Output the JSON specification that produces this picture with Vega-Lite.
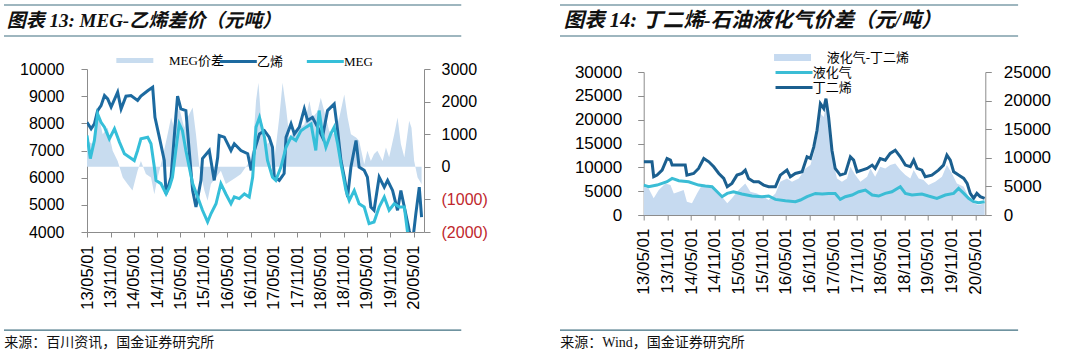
{
  "$schema": "https://vega.github.io/schema/vega-lite/v6.json",
  "padding": {"left": 3, "top": 4, "right": 0, "bottom": 0},
  "datasets": {
    "left_lines": [
      {"d":"2013-05-01","s":"乙烯","v":8040},{"d":"2013-06-02","s":"乙烯","v":7800},{"d":"2013-06-28","s":"乙烯","v":7980},{"d":"2013-07-23","s":"乙烯","v":8470},{"d":"2013-08-19","s":"乙烯","v":8650},{"d":"2013-09-15","s":"乙烯","v":9020},{"d":"2013-10-10","s":"乙烯","v":8900},{"d":"2013-11-06","s":"乙烯","v":8600},{"d":"2013-12-27","s":"乙烯","v":9150},{"d":"2014-01-23","s":"乙烯","v":8530},{"d":"2014-03-02","s":"乙烯","v":9000},{"d":"2014-04-10","s":"乙烯","v":9020},{"d":"2014-06-01","s":"乙烯","v":8840},{"d":"2014-06-27","s":"乙烯","v":9000},{"d":"2014-08-19","s":"乙烯","v":9200},{"d":"2014-09-27","s":"乙烯","v":9330},{"d":"2014-10-15","s":"乙烯","v":8220},{"d":"2014-11-18","s":"乙烯","v":7490},{"d":"2014-12-27","s":"乙烯","v":6630},{"d":"2015-01-10","s":"乙烯","v":5400},{"d":"2015-02-18","s":"乙烯","v":6020},{"d":"2015-03-27","s":"乙烯","v":8220},{"d":"2015-04-10","s":"乙烯","v":9000},{"d":"2015-05-06","s":"乙烯","v":8530},{"d":"2015-06-14","s":"乙烯","v":8470},{"d":"2015-07-10","s":"乙烯","v":7000},{"d":"2015-08-06","s":"乙烯","v":5530},{"d":"2015-09-01","s":"乙烯","v":4920},{"d":"2015-10-10","s":"乙烯","v":5900},{"d":"2015-10-22","s":"乙烯","v":6700},{"d":"2015-12-14","s":"乙烯","v":7000},{"d":"2016-01-22","s":"乙烯","v":5900},{"d":"2016-02-18","s":"乙烯","v":6750},{"d":"2016-03-01","s":"乙烯","v":7550},{"d":"2016-04-10","s":"乙烯","v":7490},{"d":"2016-06-01","s":"乙烯","v":7000},{"d":"2016-06-27","s":"乙烯","v":7250},{"d":"2016-08-18","s":"乙烯","v":7000},{"d":"2016-10-10","s":"乙烯","v":6880},{"d":"2016-11-06","s":"乙烯","v":6270},{"d":"2016-12-01","s":"乙烯","v":7000},{"d":"2017-01-10","s":"乙烯","v":7610},{"d":"2017-02-18","s":"乙烯","v":7730},{"d":"2017-03-27","s":"乙烯","v":7490},{"d":"2017-04-22","s":"乙烯","v":7120},{"d":"2017-05-06","s":"乙烯","v":6020},{"d":"2017-06-14","s":"乙烯","v":5900},{"d":"2017-07-22","s":"乙烯","v":6150},{"d":"2017-08-06","s":"乙烯","v":7490},{"d":"2017-09-14","s":"乙烯","v":7980},{"d":"2017-10-10","s":"乙烯","v":7610},{"d":"2017-11-18","s":"乙烯","v":7860},{"d":"2017-12-27","s":"乙烯","v":8530},{"d":"2018-01-22","s":"乙烯","v":8100},{"d":"2018-03-01","s":"乙烯","v":8220},{"d":"2018-04-10","s":"乙烯","v":7860},{"d":"2018-05-18","s":"乙烯","v":7490},{"d":"2018-06-27","s":"乙烯","v":8470},{"d":"2018-08-18","s":"乙烯","v":8710},{"d":"2018-09-14","s":"乙烯","v":7730},{"d":"2018-10-10","s":"乙烯","v":6630},{"d":"2018-11-05","s":"乙烯","v":6020},{"d":"2018-12-01","s":"乙烯","v":5290},{"d":"2018-12-27","s":"乙烯","v":6390},{"d":"2019-02-05","s":"乙烯","v":7370},{"d":"2019-03-01","s":"乙烯","v":6390},{"d":"2019-04-10","s":"乙烯","v":6270},{"d":"2019-05-05","s":"乙烯","v":6020},{"d":"2019-06-01","s":"乙烯","v":4920},{"d":"2019-06-26","s":"乙烯","v":4800},{"d":"2019-08-05","s":"乙烯","v":6020},{"d":"2019-09-14","s":"乙烯","v":5650},{"d":"2019-10-10","s":"乙烯","v":5900},{"d":"2019-11-18","s":"乙烯","v":5530},{"d":"2019-12-27","s":"乙烯","v":4800},{"d":"2020-01-22","s":"乙烯","v":5530},{"d":"2020-02-18","s":"乙烯","v":4920},{"d":"2020-03-27","s":"乙烯","v":4060},{"d":"2020-04-22","s":"乙烯","v":3600},{"d":"2020-05-18","s":"乙烯","v":4670},{"d":"2020-06-14","s":"乙烯","v":5650},{"d":"2020-07-02","s":"乙烯","v":4550},
      {"d":"2013-05-01","s":"MEG","v":7550},{"d":"2013-05-27","s":"MEG","v":6700},{"d":"2013-06-28","s":"MEG","v":7370},{"d":"2013-07-23","s":"MEG","v":8350},{"d":"2013-08-19","s":"MEG","v":8040},{"d":"2013-09-15","s":"MEG","v":7860},{"d":"2013-10-23","s":"MEG","v":7430},{"d":"2013-12-02","s":"MEG","v":7800},{"d":"2014-01-10","s":"MEG","v":7310},{"d":"2014-02-18","s":"MEG","v":6880},{"d":"2014-03-27","s":"MEG","v":6760},{"d":"2014-05-06","s":"MEG","v":6630},{"d":"2014-06-01","s":"MEG","v":7000},{"d":"2014-06-27","s":"MEG","v":7430},{"d":"2014-08-19","s":"MEG","v":7490},{"d":"2014-09-14","s":"MEG","v":7250},{"d":"2014-10-10","s":"MEG","v":6390},{"d":"2014-10-23","s":"MEG","v":5900},{"d":"2014-12-01","s":"MEG","v":5780},{"d":"2015-01-10","s":"MEG","v":5400},{"d":"2015-02-05","s":"MEG","v":5650},{"d":"2015-03-01","s":"MEG","v":6020},{"d":"2015-03-27","s":"MEG","v":7000},{"d":"2015-04-23","s":"MEG","v":7980},{"d":"2015-05-18","s":"MEG","v":7730},{"d":"2015-06-14","s":"MEG","v":7000},{"d":"2015-07-10","s":"MEG","v":6390},{"d":"2015-08-06","s":"MEG","v":5780},{"d":"2015-09-14","s":"MEG","v":5290},{"d":"2015-10-22","s":"MEG","v":4800},{"d":"2015-12-01","s":"MEG","v":4370},{"d":"2015-12-27","s":"MEG","v":4670},{"d":"2016-02-05","s":"MEG","v":5040},{"d":"2016-03-14","s":"MEG","v":5780},{"d":"2016-04-22","s":"MEG","v":5400},{"d":"2016-06-01","s":"MEG","v":5040},{"d":"2016-06-27","s":"MEG","v":5290},{"d":"2016-08-05","s":"MEG","v":5230},{"d":"2016-09-14","s":"MEG","v":5400},{"d":"2016-10-22","s":"MEG","v":5290},{"d":"2016-11-18","s":"MEG","v":6020},{"d":"2016-12-14","s":"MEG","v":7860},{"d":"2017-01-10","s":"MEG","v":8220},{"d":"2017-02-18","s":"MEG","v":7490},{"d":"2017-03-14","s":"MEG","v":6630},{"d":"2017-04-22","s":"MEG","v":6020},{"d":"2017-05-18","s":"MEG","v":5900},{"d":"2017-06-27","s":"MEG","v":6390},{"d":"2017-08-06","s":"MEG","v":7120},{"d":"2017-09-14","s":"MEG","v":7490},{"d":"2017-10-22","s":"MEG","v":7370},{"d":"2017-12-01","s":"MEG","v":7730},{"d":"2018-01-10","s":"MEG","v":7860},{"d":"2018-02-18","s":"MEG","v":7980},{"d":"2018-03-27","s":"MEG","v":7000},{"d":"2018-04-22","s":"MEG","v":8470},{"d":"2018-05-18","s":"MEG","v":7610},{"d":"2018-06-14","s":"MEG","v":7120},{"d":"2018-07-22","s":"MEG","v":7610},{"d":"2018-08-18","s":"MEG","v":7860},{"d":"2018-09-14","s":"MEG","v":7250},{"d":"2018-10-10","s":"MEG","v":6510},{"d":"2018-11-18","s":"MEG","v":5530},{"d":"2018-12-14","s":"MEG","v":5160},{"d":"2019-01-22","s":"MEG","v":5530},{"d":"2019-03-01","s":"MEG","v":5040},{"d":"2019-04-10","s":"MEG","v":4920},{"d":"2019-05-18","s":"MEG","v":4310},{"d":"2019-06-26","s":"MEG","v":4370},{"d":"2019-08-05","s":"MEG","v":4920},{"d":"2019-09-14","s":"MEG","v":5290},{"d":"2019-10-22","s":"MEG","v":4800},{"d":"2019-12-01","s":"MEG","v":5040},{"d":"2020-01-10","s":"MEG","v":4920},{"d":"2020-02-18","s":"MEG","v":4920},{"d":"2020-03-14","s":"MEG","v":4000},{"d":"2020-04-04","s":"MEG","v":3700},{"d":"2020-05-18","s":"MEG","v":3600},{"d":"2020-07-02","s":"MEG","v":3900}
    ],
    "left_spread": [
      {"d":"2013-05-01","v":800},{"d":"2013-06-14","v":700},{"d":"2013-07-23","v":1700},{"d":"2013-09-01","v":1000},{"d":"2013-10-10","v":1200},{"d":"2013-11-18","v":490},{"d":"2013-12-27","v":180},{"d":"2014-02-05","v":-330},{"d":"2014-03-14","v":-530},{"d":"2014-04-22","v":-730},{"d":"2014-06-01","v":-120},{"d":"2014-06-27","v":180},{"d":"2014-08-05","v":-220},{"d":"2014-09-14","v":-330},{"d":"2014-10-10","v":-840},{"d":"2014-11-05","v":-330},{"d":"2014-12-14","v":290},{"d":"2015-01-22","v":1000},{"d":"2015-02-18","v":1510},{"d":"2015-03-14","v":1200},{"d":"2015-04-22","v":1820},{"d":"2015-06-01","v":1200},{"d":"2015-06-27","v":1510},{"d":"2015-08-06","v":1820},{"d":"2015-09-01","v":1000},{"d":"2015-09-27","v":0},{"d":"2015-11-06","v":-730},{"d":"2015-12-01","v":-1040},{"d":"2015-12-27","v":-530},{"d":"2016-02-05","v":-330},{"d":"2016-03-14","v":-120},{"d":"2016-04-22","v":-530},{"d":"2016-06-01","v":-430},{"d":"2016-07-10","v":-330},{"d":"2016-08-18","v":-220},{"d":"2016-10-10","v":80},{"d":"2016-11-18","v":490},{"d":"2016-12-14","v":2020},{"d":"2017-01-02","v":2580},{"d":"2017-01-22","v":1510},{"d":"2017-02-18","v":1000},{"d":"2017-03-14","v":700},{"d":"2017-04-10","v":800},{"d":"2017-05-06","v":200},{"d":"2017-06-14","v":1510},{"d":"2017-07-10","v":2580},{"d":"2017-08-06","v":1820},{"d":"2017-09-01","v":900},{"d":"2017-10-10","v":1100},{"d":"2017-11-18","v":1200},{"d":"2017-12-27","v":1300},{"d":"2018-02-05","v":2020},{"d":"2018-03-01","v":1510},{"d":"2018-04-10","v":1700},{"d":"2018-05-05","v":2120},{"d":"2018-06-14","v":1510},{"d":"2018-07-10","v":1100},{"d":"2018-08-18","v":1000},{"d":"2018-09-27","v":1510},{"d":"2018-11-05","v":2220},{"d":"2018-12-01","v":1510},{"d":"2018-12-27","v":1000},{"d":"2019-02-05","v":900},{"d":"2019-03-01","v":800},{"d":"2019-04-10","v":80},{"d":"2019-05-05","v":490},{"d":"2019-06-01","v":180},{"d":"2019-06-26","v":390},{"d":"2019-07-22","v":490},{"d":"2019-09-01","v":180},{"d":"2019-09-27","v":590},{"d":"2019-10-22","v":290},{"d":"2019-12-01","v":1000},{"d":"2019-12-27","v":1510},{"d":"2020-01-22","v":700},{"d":"2020-02-18","v":290},{"d":"2020-03-27","v":1410},{"d":"2020-04-14","v":1200},{"d":"2020-05-05","v":180},{"d":"2020-06-01","v":-330},{"d":"2020-07-02","v":-530}
    ],
    "right_lines": [
      {"d":"2013-05-01","s":"丁二烯","v":11160},{"d":"2013-07-04","s":"丁二烯","v":11160},{"d":"2013-07-17","s":"丁二烯","v":8020},{"d":"2013-08-12","s":"丁二烯","v":8370},{"d":"2013-09-20","s":"丁二烯","v":9420},{"d":"2013-10-28","s":"丁二烯","v":11860},{"d":"2013-11-23","s":"丁二烯","v":11510},{"d":"2013-12-06","s":"丁二烯","v":10470},{"d":"2014-03-17","s":"丁二烯","v":10470},{"d":"2014-03-30","s":"丁二烯","v":8370},{"d":"2014-05-21","s":"丁二烯","v":8720},{"d":"2014-06-28","s":"丁二烯","v":9770},{"d":"2014-08-07","s":"丁二烯","v":11860},{"d":"2014-09-15","s":"丁二烯","v":11160},{"d":"2014-10-23","s":"丁二烯","v":10120},{"d":"2014-12-01","s":"丁二烯","v":8720},{"d":"2015-01-08","s":"丁二烯","v":7670},{"d":"2015-02-04","s":"丁二烯","v":5930},{"d":"2015-03-12","s":"丁二烯","v":6630},{"d":"2015-04-20","s":"丁二烯","v":8370},{"d":"2015-05-28","s":"丁二烯","v":8720},{"d":"2015-06-23","s":"丁二烯","v":9420},{"d":"2015-07-18","s":"丁二烯","v":7670},{"d":"2015-08-27","s":"丁二烯","v":6980},{"d":"2015-10-04","s":"丁二烯","v":6980},{"d":"2015-11-12","s":"丁二烯","v":6280},{"d":"2015-12-20","s":"丁二烯","v":5930},{"d":"2016-02-10","s":"丁二烯","v":5930},{"d":"2016-03-19","s":"丁二烯","v":8370},{"d":"2016-05-09","s":"丁二烯","v":9420},{"d":"2016-06-04","s":"丁二烯","v":8020},{"d":"2016-07-13","s":"丁二烯","v":8720},{"d":"2016-09-03","s":"丁二烯","v":9070},{"d":"2016-10-11","s":"丁二烯","v":12210},{"d":"2016-11-06","s":"丁二烯","v":11860},{"d":"2016-12-02","s":"丁二烯","v":14300},{"d":"2016-12-27","s":"丁二烯","v":17790},{"d":"2017-01-22","s":"丁二烯","v":23370},{"d":"2017-02-17","s":"丁二烯","v":22330},{"d":"2017-03-06","s":"丁二烯","v":24420},{"d":"2017-03-26","s":"丁二烯","v":20580},{"d":"2017-04-21","s":"丁二烯","v":13600},{"d":"2017-05-16","s":"丁二烯","v":9770},{"d":"2017-06-24","s":"丁二烯","v":8370},{"d":"2017-08-02","s":"丁二烯","v":8720},{"d":"2017-09-10","s":"丁二烯","v":12210},{"d":"2017-10-05","s":"丁二烯","v":11510},{"d":"2017-11-01","s":"丁二烯","v":9070},{"d":"2017-12-09","s":"丁二烯","v":9420},{"d":"2018-01-17","s":"丁二烯","v":9770},{"d":"2018-02-25","s":"丁二烯","v":10470},{"d":"2018-03-20","s":"丁二烯","v":9770},{"d":"2018-04-28","s":"丁二烯","v":11860},{"d":"2018-06-06","s":"丁二烯","v":11510},{"d":"2018-07-14","s":"丁二烯","v":12910},{"d":"2018-08-22","s":"丁二烯","v":13600},{"d":"2018-09-30","s":"丁二烯","v":12210},{"d":"2018-11-08","s":"丁二烯","v":10470},{"d":"2018-12-16","s":"丁二烯","v":10120},{"d":"2019-01-11","s":"丁二烯","v":11510},{"d":"2019-02-06","s":"丁二烯","v":9770},{"d":"2019-03-15","s":"丁二烯","v":9420},{"d":"2019-04-10","s":"丁二烯","v":8020},{"d":"2019-05-31","s":"丁二烯","v":8370},{"d":"2019-07-21","s":"丁二烯","v":9420},{"d":"2019-08-29","s":"丁二烯","v":10470},{"d":"2019-09-24","s":"丁二烯","v":12560},{"d":"2019-10-20","s":"丁二烯","v":11510},{"d":"2019-11-15","s":"丁二烯","v":9070},{"d":"2019-12-23","s":"丁二烯","v":8370},{"d":"2020-02-01","s":"丁二烯","v":7670},{"d":"2020-02-27","s":"丁二烯","v":6630},{"d":"2020-03-22","s":"丁二烯","v":4530},{"d":"2020-04-17","s":"丁二烯","v":3490},{"d":"2020-05-12","s":"丁二烯","v":4530},{"d":"2020-06-07","s":"丁二烯","v":3840},{"d":"2020-07-11","s":"丁二烯","v":3490},
      {"d":"2013-05-01","s":"液化气","v":6280},{"d":"2013-06-08","s":"液化气","v":5930},{"d":"2013-08-12","s":"液化气","v":6280},{"d":"2013-10-28","s":"液化气","v":6980},{"d":"2013-12-06","s":"液化气","v":7670},{"d":"2014-01-27","s":"液化气","v":7190},{"d":"2014-04-12","s":"液化气","v":6980},{"d":"2014-06-28","s":"液化气","v":6280},{"d":"2014-08-19","s":"液化气","v":6070},{"d":"2014-10-10","s":"液化气","v":5930},{"d":"2014-11-18","s":"液化气","v":4880},{"d":"2014-12-26","s":"液化气","v":3840},{"d":"2015-02-04","s":"液化气","v":4530},{"d":"2015-03-24","s":"液化气","v":4880},{"d":"2015-05-28","s":"液化气","v":4400},{"d":"2015-08-14","s":"液化气","v":3980},{"d":"2015-10-30","s":"液化气","v":3840},{"d":"2015-12-20","s":"液化气","v":3980},{"d":"2016-02-10","s":"液化气","v":3280},{"d":"2016-04-27","s":"液化气","v":3000},{"d":"2016-07-13","s":"液化气","v":2790},{"d":"2016-08-21","s":"液化气","v":3140},{"d":"2016-10-11","s":"液化气","v":3840},{"d":"2016-12-15","s":"液化气","v":4530},{"d":"2017-02-05","s":"液化气","v":4400},{"d":"2017-03-26","s":"液化气","v":4530},{"d":"2017-05-16","s":"液化气","v":4530},{"d":"2017-06-24","s":"液化气","v":3280},{"d":"2017-08-02","s":"液化气","v":3840},{"d":"2017-09-23","s":"液化气","v":4190},{"d":"2017-11-14","s":"液化气","v":4880},{"d":"2018-01-04","s":"液化气","v":5230},{"d":"2018-02-25","s":"液化气","v":4190},{"d":"2018-04-16","s":"液化气","v":3980},{"d":"2018-06-06","s":"液化气","v":4530},{"d":"2018-07-27","s":"液化气","v":4880},{"d":"2018-09-30","s":"液化气","v":5930},{"d":"2018-11-08","s":"液化气","v":4530},{"d":"2018-12-29","s":"液化气","v":4190},{"d":"2019-03-15","s":"液化气","v":4400},{"d":"2019-05-05","s":"液化气","v":3980},{"d":"2019-07-09","s":"液化气","v":3490},{"d":"2019-09-12","s":"液化气","v":4190},{"d":"2019-11-15","s":"液化气","v":4530},{"d":"2019-12-23","s":"液化气","v":5580},{"d":"2020-02-01","s":"液化气","v":4530},{"d":"2020-03-09","s":"液化气","v":3490},{"d":"2020-04-17","s":"液化气","v":2790},{"d":"2020-05-25","s":"液化气","v":2580},{"d":"2020-07-11","s":"液化气","v":2790}
    ],
    "right_spread": [
      {"d":"2013-05-01","v":4940},{"d":"2013-06-08","v":4650},{"d":"2013-07-17","v":2910},{"d":"2013-08-25","v":4360},{"d":"2013-10-16","v":5520},{"d":"2013-11-23","v":5230},{"d":"2013-12-19","v":3780},{"d":"2014-01-27","v":4070},{"d":"2014-03-05","v":4360},{"d":"2014-03-30","v":2330},{"d":"2014-05-08","v":2040},{"d":"2014-06-16","v":3780},{"d":"2014-07-24","v":5230},{"d":"2014-09-15","v":4940},{"d":"2014-11-05","v":4360},{"d":"2014-12-26","v":3200},{"d":"2015-02-04","v":2040},{"d":"2015-03-12","v":2910},{"d":"2015-05-02","v":4360},{"d":"2015-06-23","v":5520},{"d":"2015-08-01","v":4070},{"d":"2015-09-21","v":3780},{"d":"2015-11-12","v":3200},{"d":"2015-12-20","v":2620},{"d":"2016-02-10","v":3780},{"d":"2016-03-19","v":5810},{"d":"2016-05-09","v":6400},{"d":"2016-06-17","v":5810},{"d":"2016-08-08","v":6400},{"d":"2016-09-29","v":8140},{"d":"2016-11-06","v":8720},{"d":"2016-12-02","v":10760},{"d":"2016-12-27","v":13660},{"d":"2017-01-22","v":17730},{"d":"2017-02-17","v":17150},{"d":"2017-03-06","v":19190},{"d":"2017-04-01","v":15700},{"d":"2017-04-21","v":10170},{"d":"2017-05-30","v":6400},{"d":"2017-07-07","v":5810},{"d":"2017-08-15","v":6400},{"d":"2017-09-10","v":8430},{"d":"2017-10-18","v":6980},{"d":"2017-11-26","v":5810},{"d":"2018-01-17","v":6690},{"d":"2018-02-12","v":8140},{"d":"2018-03-20","v":6690},{"d":"2018-04-28","v":8430},{"d":"2018-06-06","v":8140},{"d":"2018-07-14","v":8720},{"d":"2018-08-22","v":9010},{"d":"2018-09-30","v":7850},{"d":"2018-11-08","v":6980},{"d":"2018-12-16","v":6400},{"d":"2019-01-11","v":7850},{"d":"2019-02-19","v":6400},{"d":"2019-03-28","v":6100},{"d":"2019-05-05","v":5230},{"d":"2019-06-26","v":5810},{"d":"2019-08-17","v":6690},{"d":"2019-09-24","v":8720},{"d":"2019-11-02","v":7270},{"d":"2019-12-10","v":5520},{"d":"2020-02-01","v":4940},{"d":"2020-03-09","v":3200},{"d":"2020-04-17","v":2040},{"d":"2020-05-25","v":1740},{"d":"2020-07-11","v":2040}
    ]
  },
  "hconcat": [
    {
      "vconcat": [
        {
          "width": 503, "height": 64,
          "data": {"values": [{}]},
          "layer": [
            {"mark": {"type": "rule", "color": "#3f6f80", "strokeWidth": 1.2},
             "encoding": {"x": {"datum": 0, "type": "quantitative", "scale": {"domain": [0, 503]}, "axis": null}, "x2": {"datum": 500},
                          "y": {"datum": 0, "type": "quantitative", "scale": {"domain": [0, 64], "reverse": true}, "axis": null}}},
            {"mark": {"type": "rule", "color": "#3f6f80", "strokeWidth": 1.2},
             "encoding": {"x": {"datum": 0, "type": "quantitative"}, "x2": {"datum": 500},
                          "y": {"datum": 31.5, "type": "quantitative"}}},
            {"mark": {"type": "text", "align": "left", "baseline": "middle", "fontSize": 19, "fontWeight": "bold", "fontStyle": "italic", "font": "Liberation Serif, Noto Sans CJK SC", "color": "#111"},
             "encoding": {"x": {"datum": 3, "type": "quantitative"},
                          "y": {"datum": 16, "type": "quantitative"},
                          "text": {"value": "图表 13: MEG-乙烯差价（元吨）"}}}
          ]
        },
        {
          "width": 337, "height": 163,
          "encoding": {
            "x": {"field": "d", "type": "temporal",
                  "scale": {"domain": [{"year": 2013, "month": 5, "date": 1}, {"year": 2020, "month": 7, "date": 21}]},
                  "axis": {"title": null, "format": "%y/%m/%d", "labelAngle": 270, "labelPadding": 8, "tickSize": 5, "labelOverlap": false, "labelFontSize": 16.5,
                           "values": [{"year":2013,"month":5,"date":1},{"year":2013,"month":11,"date":1},{"year":2014,"month":5,"date":1},{"year":2014,"month":11,"date":1},{"year":2015,"month":5,"date":1},{"year":2015,"month":11,"date":1},{"year":2016,"month":5,"date":1},{"year":2016,"month":11,"date":1},{"year":2017,"month":5,"date":1},{"year":2017,"month":11,"date":1},{"year":2018,"month":5,"date":1},{"year":2018,"month":11,"date":1},{"year":2019,"month":5,"date":1},{"year":2019,"month":11,"date":1},{"year":2020,"month":5,"date":1}]}}
          },
          "layer": [
            {
              "data": {"name": "left_spread"},
              "mark": {"type": "area", "clip": true},
              "encoding": {
                "y": {"field": "v", "type": "quantitative", "scale": {"domain": [-2000, 3000]},
                      "axis": {"title": null, "orient": "right", "values": [-2000, -1000, 0, 1000, 2000, 3000], "tickSize": 6, "labelPadding": 11, "labelFontSize": 16,
                               "labelExpr": "datum.value < 0 ? '(' + format(-datum.value, 'd') + ')' : format(datum.value, 'd')",
                               "labelColor": {"condition": {"test": "datum.value < 0", "value": "#c0272d"}, "value": "#000000"}}},
                "y2": {"datum": 0},
                "fill": {"datum": "MEG价差", "type": "nominal", "scale": {"domain": ["MEG价差"], "range": ["#c8dcef"]},
                         "legend": {"title": null, "orient": "none", "legendX": 29, "legendY": -15, "direction": "horizontal", "padding": 0,
                                    "symbolType": "M-3,-0.4H3V0.4H-3Z", "symbolSize": 152, "symbolOffset": 12.33, "labelOffset": 27.7, "symbolStrokeWidth": 0,
                                    "labelFont": "Liberation Serif, Noto Sans CJK SC", "labelFontSize": 13, "labelColor": "#000000"}}
              }
            },
            {
              "data": {"name": "left_lines"},
              "mark": {"type": "line", "strokeWidth": 3, "clip": true},
              "encoding": {
                "y": {"field": "v", "type": "quantitative", "scale": {"domain": [4000, 10000]},
                      "axis": {"title": null, "orient": "left", "values": [4000, 5000, 6000, 7000, 8000, 9000, 10000], "format": "d", "tickSize": 6, "labelPadding": 17, "labelFontSize": 16}},
                "stroke": {"field": "s", "type": "nominal", "scale": {"domain": ["乙烯", "MEG"], "range": ["#1c6aa0", "#35bfd9"]},
                           "legend": {"title": null, "orient": "none", "legendX": 131, "legendY": -15.5, "direction": "horizontal", "padding": 0, "columnPadding": 16,
                                      "symbolType": "M-3,0H3", "symbolSize": 152, "symbolOffset": 12.33, "labelOffset": 10.7, "symbolStrokeWidth": 3, "symbolFillColor": "transparent",
                                      "labelFont": "Liberation Serif, Noto Sans CJK SC", "labelFontSize": 13, "labelColor": "#000000"}}
              }
            }
          ],
          "resolve": {"scale": {"y": "independent"}, "axis": {"y": "independent"}}
        },
        {
          "width": 503, "height": 116,
          "data": {"values": [{}]},
          "layer": [
            {"mark": {"type": "rule", "color": "#3f6f80", "strokeWidth": 1.2},
             "encoding": {"x": {"datum": 0, "type": "quantitative", "scale": {"domain": [0, 503]}, "axis": null}, "x2": {"datum": 500},
                          "y": {"datum": 101.5, "type": "quantitative", "scale": {"domain": [0, 116], "reverse": true}, "axis": null}}},
            {"mark": {"type": "text", "align": "left", "baseline": "middle", "fontSize": 14, "font": "Liberation Serif, Noto Sans CJK SC", "color": "#111"},
             "encoding": {"x": {"datum": 0.3, "type": "quantitative"},
                          "y": {"datum": 115, "type": "quantitative"},
                          "text": {"value": "来源：百川资讯，国金证券研究所"}}}
          ]
        }
      ],
      "spacing": 0, "bounds": "flush", "center": true,
      "resolve": {"scale": {"fill": "independent", "stroke": "independent"}, "legend": {"fill": "independent", "stroke": "independent"}}
    },
    {
      "vconcat": [
        {
          "width": 509, "height": 64,
          "data": {"values": [{}]},
          "layer": [
            {"mark": {"type": "rule", "color": "#3f6f80", "strokeWidth": 1.2},
             "encoding": {"x": {"datum": 0, "type": "quantitative", "scale": {"domain": [0, 509]}, "axis": null}, "x2": {"datum": 495},
                          "y": {"datum": 0, "type": "quantitative", "scale": {"domain": [0, 64], "reverse": true}, "axis": null}}},
            {"mark": {"type": "rule", "color": "#3f6f80", "strokeWidth": 1.2},
             "encoding": {"x": {"datum": 0, "type": "quantitative"}, "x2": {"datum": 495},
                          "y": {"datum": 31.5, "type": "quantitative"}}},
            {"mark": {"type": "text", "align": "left", "baseline": "middle", "fontSize": 20.5, "fontWeight": "bold", "fontStyle": "italic", "font": "Liberation Serif, Noto Sans CJK SC", "color": "#111"},
             "encoding": {"x": {"datum": 4, "type": "quantitative"},
                          "y": {"datum": 16, "type": "quantitative"},
                          "text": {"value": "图表 14: 丁二烯-石油液化气价差（元/吨）"}}}
          ]
        },
        {"width": 1, "height": 3, "data": {"values": []}, "mark": "point"},
        {
          "width": 341.6, "height": 143,
          "encoding": {
            "x": {"field": "d", "type": "temporal",
                  "scale": {"domain": [{"year": 2013, "month": 5, "date": 1}, {"year": 2020, "month": 7, "date": 16}]},
                  "axis": {"title": null, "format": "%y/%m/%d", "labelAngle": 270, "labelPadding": 8, "tickSize": 5, "labelOverlap": false, "labelFontSize": 17,
                           "values": [{"year":2013,"month":5,"date":1},{"year":2013,"month":11,"date":1},{"year":2014,"month":5,"date":1},{"year":2014,"month":11,"date":1},{"year":2015,"month":5,"date":1},{"year":2015,"month":11,"date":1},{"year":2016,"month":5,"date":1},{"year":2016,"month":11,"date":1},{"year":2017,"month":5,"date":1},{"year":2017,"month":11,"date":1},{"year":2018,"month":5,"date":1},{"year":2018,"month":11,"date":1},{"year":2019,"month":5,"date":1},{"year":2019,"month":11,"date":1},{"year":2020,"month":5,"date":1}]}}
          },
          "layer": [
            {
              "data": {"name": "right_spread"},
              "mark": {"type": "area", "clip": true},
              "encoding": {
                "y": {"field": "v", "type": "quantitative", "scale": {"domain": [0, 25000]},
                      "axis": {"title": null, "orient": "right", "values": [0, 5000, 10000, 15000, 20000, 25000], "format": "d", "tickSize": 6, "labelPadding": 12, "labelFontSize": 17}},
                "y2": {"datum": 0},
                "fill": {"datum": "液化气-丁二烯", "type": "nominal", "scale": {"domain": ["液化气-丁二烯"], "range": ["#c6daf0"]},
                         "legend": {"title": null, "orient": "none", "legendX": 130, "legendY": -21, "direction": "vertical", "padding": 0,
                                    "symbolType": "M-3,-0.55H3V0.55H-3Z", "symbolSize": 152, "symbolOffset": 12.33, "labelOffset": 27.7, "symbolStrokeWidth": 0,
                                    "labelFont": "Liberation Serif, Noto Sans CJK SC", "labelFontSize": 13, "labelColor": "#000000"}}
              }
            },
            {
              "data": {"name": "right_lines"},
              "mark": {"type": "line", "strokeWidth": 3, "clip": true},
              "encoding": {
                "y": {"field": "v", "type": "quantitative", "scale": {"domain": [0, 30000]},
                      "axis": {"title": null, "orient": "left", "values": [0, 5000, 10000, 15000, 20000, 25000, 30000], "format": "d", "tickSize": 6, "labelPadding": 16, "labelFontSize": 17}},
                "stroke": {"field": "s", "type": "nominal", "scale": {"domain": ["液化气", "丁二烯"], "range": ["#3bbdd5", "#1b5f8f"]},
                           "legend": {"title": null, "orient": "none", "legendX": 130, "legendY": -7.5, "direction": "vertical", "padding": 0, "rowPadding": -5,
                                      "symbolType": "M-3,0H3", "symbolSize": 152, "symbolOffset": 12.33, "labelOffset": 10.7, "symbolStrokeWidth": 3, "symbolFillColor": "transparent",
                                      "labelFont": "Liberation Serif, Noto Sans CJK SC", "labelFontSize": 13, "labelColor": "#000000"}}
              }
            }
          ],
          "resolve": {"scale": {"y": "independent"}, "axis": {"y": "independent"}}
        },
        {
          "width": 509, "height": 136,
          "data": {"values": [{}]},
          "layer": [
            {"mark": {"type": "rule", "color": "#3f6f80", "strokeWidth": 1.2},
             "encoding": {"x": {"datum": 0, "type": "quantitative", "scale": {"domain": [0, 509]}, "axis": null}, "x2": {"datum": 495},
                          "y": {"datum": 118.5, "type": "quantitative", "scale": {"domain": [0, 136], "reverse": true}, "axis": null}}},
            {"mark": {"type": "text", "align": "left", "baseline": "middle", "fontSize": 14, "font": "Liberation Serif, Noto Sans CJK SC", "color": "#111"},
             "encoding": {"x": {"datum": 0.3, "type": "quantitative"},
                          "y": {"datum": 132, "type": "quantitative"},
                          "text": {"value": "来源：Wind，国金证券研究所"}}}
          ]
        }
      ],
      "spacing": 0, "bounds": "flush", "center": true,
      "resolve": {"scale": {"fill": "independent", "stroke": "independent"}, "legend": {"fill": "independent", "stroke": "independent"}}
    }
  ],
  "spacing": 52,
  "resolve": {"scale": {"fill": "independent", "stroke": "independent"}, "legend": {"fill": "independent", "stroke": "independent"}},
  "config": {
    "view": {"stroke": null},
    "axis": {"grid": false, "domainColor": "#8c8c8c", "tickColor": "#8c8c8c", "labelFont": "Liberation Sans", "labelColor": "#000000"}
  }
}
